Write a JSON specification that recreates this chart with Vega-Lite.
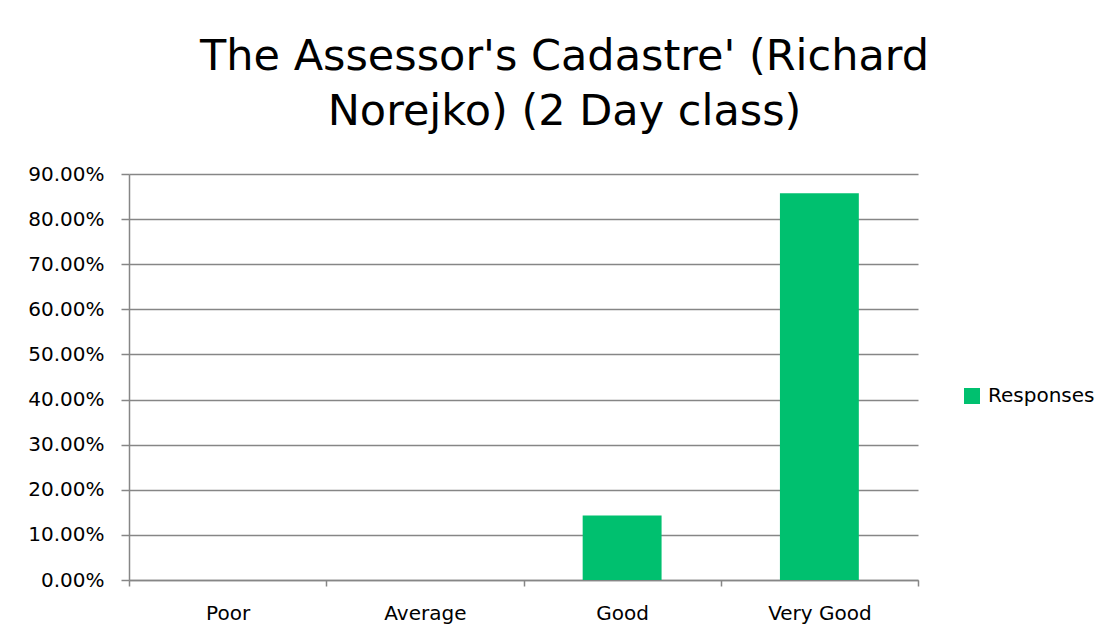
{
  "$schema": "https://vega.github.io/schema/vega-lite/v6.json",
  "width": 789,
  "height": 406,
  "autosize": {"type": "none"},
  "padding": {"left": 129, "top": 174, "right": 196, "bottom": 61},
  "background": "white",
  "title": {
    "text": ["The Assessor's Cadastre' (Richard", "Norejko) (2 Day class)"],
    "font": "DejaVu Sans",
    "fontSize": 43,
    "fontWeight": "normal",
    "color": "black",
    "lineHeight": 55,
    "anchor": "middle",
    "dx": 41,
    "offset": 30
  },
  "data": {
    "values": [
      {"rating": "Poor", "share": 0, "series": "Responses"},
      {"rating": "Average", "share": 0, "series": "Responses"},
      {"rating": "Good", "share": 0.142857, "series": "Responses"},
      {"rating": "Very Good", "share": 0.857143, "series": "Responses"}
    ]
  },
  "mark": {"type": "bar", "width": {"band": 0.4}},
  "encoding": {
    "x": {
      "field": "rating",
      "type": "nominal",
      "sort": ["Poor", "Average", "Good", "Very Good"],
      "scale": {"paddingInner": 0, "paddingOuter": 0},
      "axis": {
        "title": null,
        "labelAngle": 0,
        "labelFont": "DejaVu Sans",
        "labelFontSize": 20,
        "labelColor": "black",
        "labelPadding": 17,
        "tickBand": "extent",
        "tickSize": 6,
        "tickColor": "#868686",
        "tickWidth": 1.5,
        "domainColor": "#868686",
        "domainWidth": 1.5,
        "grid": false
      }
    },
    "y": {
      "field": "share",
      "type": "quantitative",
      "scale": {"domain": [0, 0.9], "nice": false},
      "axis": {
        "title": null,
        "format": ".2%",
        "values": [0, 0.1, 0.2, 0.3, 0.4, 0.5, 0.6, 0.7, 0.8, 0.9],
        "labelFont": "DejaVu Sans",
        "labelFontSize": 20,
        "labelColor": "black",
        "labelPadding": 17,
        "tickSize": 8,
        "tickColor": "#868686",
        "tickWidth": 1.5,
        "domainColor": "#868686",
        "domainWidth": 1.5,
        "grid": true,
        "gridColor": "#868686",
        "gridWidth": 1.5
      }
    },
    "color": {
      "field": "series",
      "type": "nominal",
      "scale": {"range": ["#00c06f"]},
      "legend": {
        "title": null,
        "orient": "none",
        "legendX": 833,
        "legendY": 212,
        "symbolType": "square",
        "symbolSize": 256,
        "symbolStrokeWidth": 0,
        "labelFont": "DejaVu Sans",
        "labelFontSize": 20,
        "labelColor": "black",
        "labelOffset": 6
      }
    }
  },
  "config": {
    "view": {"stroke": null}
  }
}
